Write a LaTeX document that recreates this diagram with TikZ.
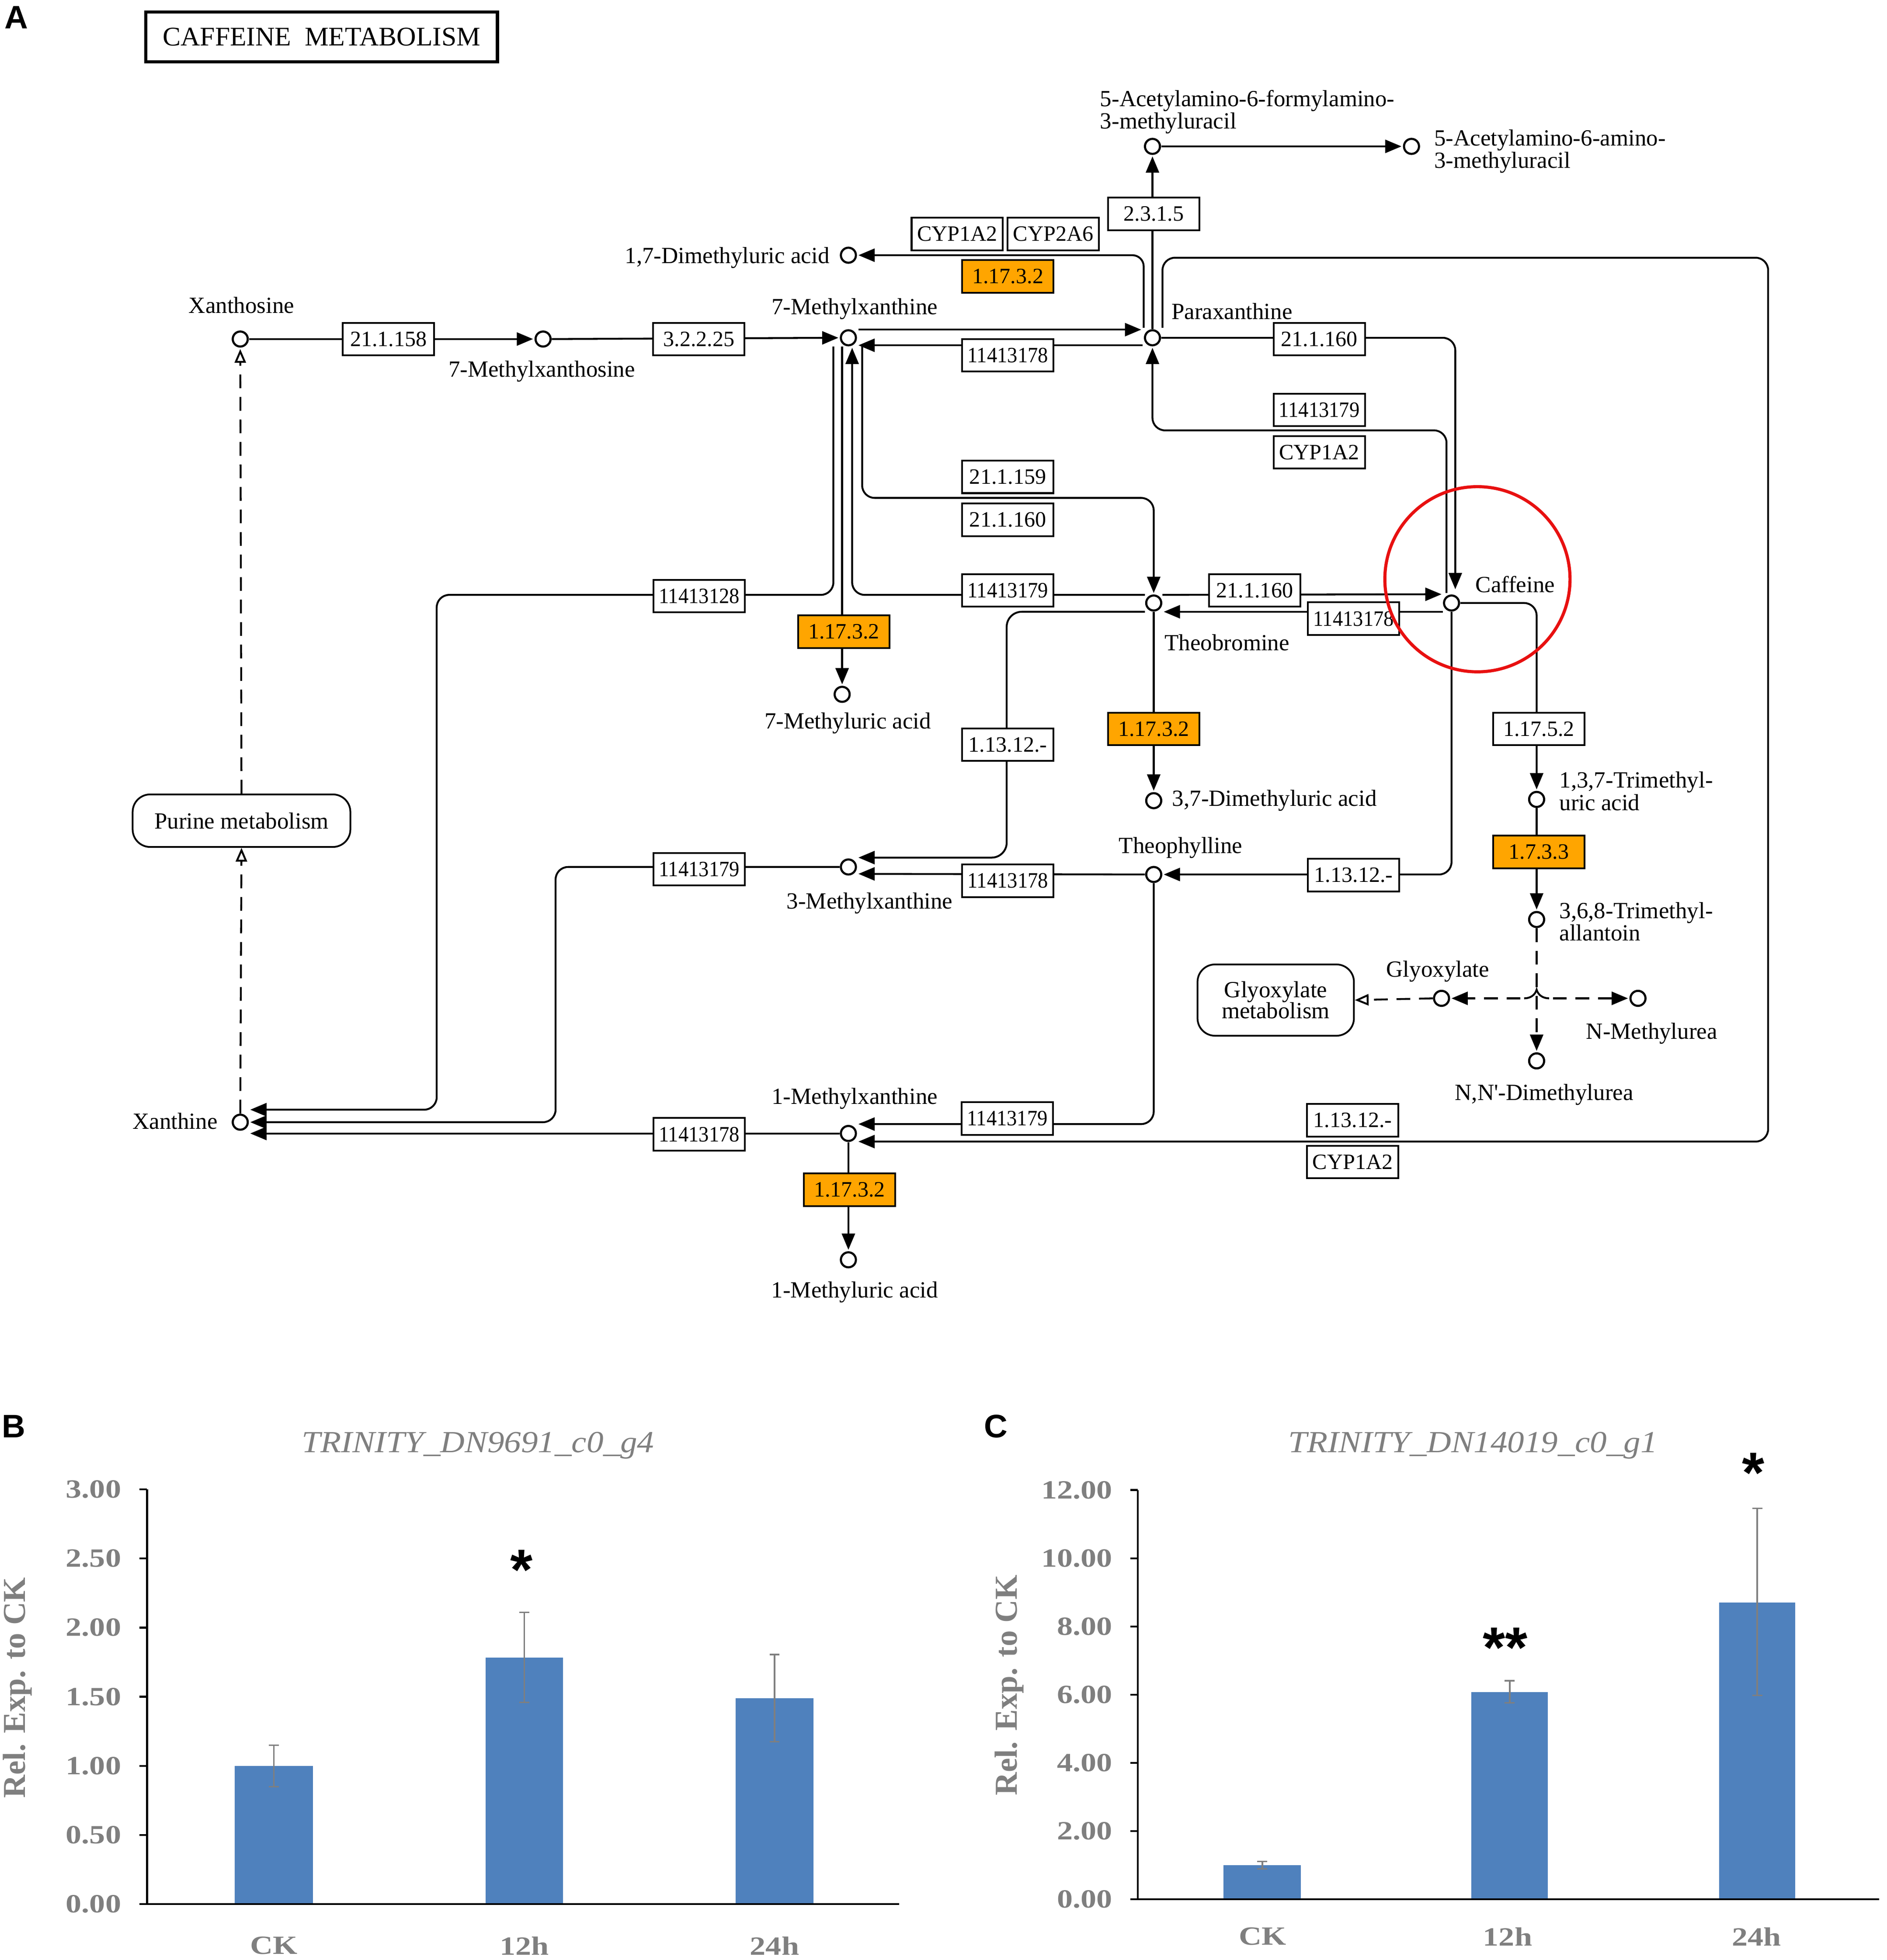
\documentclass[tikz,border=0pt]{standalone}
\usepackage{fontspec}
\usepackage{graphicx}
\setmainfont{Liberation Serif}
\newfontfamily\chartfont[FakeStretch=1.2]{Liberation Serif}
\newfontfamily\charttitlefont[FakeStretch=1.1]{Liberation Serif}
\newfontfamily\panelfont{Liberation Sans}
\usetikzlibrary{arrows.meta,calc}
\newcommand{\squeezed}[1]{\scalebox{0.93}[1]{#1}}
\definecolor{keggorange}{RGB}{255,165,0}
\definecolor{barblue}{RGB}{79,129,189}
\definecolor{axisgray}{RGB}{127,127,127}
\definecolor{kred}{RGB}{232,16,16}
\begin{document}
\begin{tikzpicture}[x=1pt,y=-1pt,
  cpd/.style={circle,draw,fill=white,line width=1.7pt,minimum size=12pt,inner sep=0pt},
  enz/.style={draw,fill=white,line width=1.4pt,minimum width=73pt,minimum height=26pt,inner sep=0pt,font=\fontsize{17.5}{17.5}\selectfont},
  oenz/.style={enz,fill=keggorange},
  lbl/.style={inner sep=0pt,font=\fontsize{18.5}{16}\selectfont},
  rxn/.style={line width=1.5pt},
  arr/.style={rxn,-{Triangle[length=13pt,width=10.5pt]}},
  darr/.style={rxn,dash pattern=on 11pt off 7pt,-{Triangle[length=13pt,width=10.5pt]}},
  oarr/.style={rxn,dash pattern=on 11pt off 7pt,-{Triangle[open,fill=white,length=11pt,width=9pt]}},
  mapbox/.style={draw,rounded corners=14pt,line width=1.4pt,fill=white,align=center,inner sep=0pt,font=\fontsize{18.5}{17}\selectfont},
  panel/.style={inner sep=0pt,font=\panelfont\bfseries\fontsize{26}{26}\selectfont},
  ctitle/.style={inner sep=0pt,text=axisgray,font=\charttitlefont\itshape\fontsize{24.5}{24.5}\selectfont},
  ytick/.style={inner sep=0pt,anchor=east,text=axisgray,font=\chartfont\bfseries\fontsize{21}{21}\selectfont},
  xtick/.style={inner sep=0pt,anchor=north,text=axisgray,font=\chartfont\bfseries\fontsize{21}{21}\selectfont},
  ylab/.style={inner sep=0pt,rotate=90,text=axisgray,font=\bfseries\fontsize{25.5}{25.5}\selectfont},
  star/.style={inner sep=0pt,anchor=north,font=\panelfont\bfseries\fontsize{46}{46}\selectfont},
  bar/.style={fill=barblue},
  err/.style={draw=axisgray,line width=1.2pt},
  axis/.style={line width=1.5pt}
]
\useasboundingbox (0,0) rectangle (1508,1566.7);
\clip (0,0) rectangle (1508,1566.7);
\fill[white] (0,0) rectangle (1508,1566.7);

% ---------------- Panel A ----------------
\node[panel] (pA) at (13,14) {A};
\node[draw,line width=2.5pt,minimum width=281pt,minimum height=40pt,inner sep=0pt,font=\fontsize{21.5}{21.5}\selectfont] (title) at (257,29.5) {CAFFEINE\ \ METABOLISM};

% compounds
\node[cpd] (xos) at (192,271) {};
\node[cpd] (mxo7) at (434,271) {};
\node[cpd] (mx7) at (678,270) {};
\node[cpd] (para) at (921,270) {};
\node[cpd] (afmu) at (921,117) {};
\node[cpd] (aamu) at (1128,117) {};
\node[cpd] (dmu17) at (678,204) {};
\node[cpd] (theob) at (922,482) {};
\node[cpd] (caf) at (1160,482) {};
\node[cpd] (mu7) at (673,555) {};
\node[cpd] (dmu37) at (922,640) {};
\node[cpd] (theoph) at (922,699) {};
\node[cpd] (mx3) at (678,693) {};
\node[cpd] (tmu) at (1228,639) {};
\node[cpd] (tma) at (1228,735) {};
\node[cpd] (glyox) at (1152,798) {};
\node[cpd] (nmu) at (1309,798) {};
\node[cpd] (nndmu) at (1228,848) {};
\node[cpd] (xan) at (192,897) {};
\node[cpd] (mx1) at (678,906) {};
\node[cpd] (mu1) at (678,1007) {};
\node[mapbox,minimum width=174pt,minimum height=42pt] (purine) at (193,656) {Purine metabolism};
\node[mapbox,minimum width=125pt,minimum height=57pt] (glymet) at (1019.5,799.4) {Glyoxylate\\metabolism};

% compound labels
\node[lbl] (l-xos) at (193,244) {Xanthosine};
\node[lbl] (l-mxo7) at (433,297) {7-Methylxanthosine};
\node[lbl] (l-mx7) at (683,247) {7-Methylxanthine};
\node[lbl,anchor=west] (l-para) at (936,249) {Paraxanthine};
\node[lbl,anchor=west,align=left] (l-afmu) at (879,89.5) {5-Acetylamino-6-formylamino-\\3-methyluracil};
\node[lbl,anchor=west,align=left] (l-aamu) at (1146,121) {5-Acetylamino-6-amino-\\3-methyluracil};
\node[lbl,anchor=east] (l-dmu17) at (663,206) {1,7-Dimethyluric acid};
\node[lbl,anchor=west] (l-theob) at (930.6,513.5) {Theobromine};
\node[lbl,anchor=west] (l-caf) at (1179,467) {Caffeine};
\node[lbl] (l-mu7) at (677.5,578) {7-Methyluric acid};
\node[lbl,anchor=west] (l-dmu37) at (936.6,640) {3,7-Dimethyluric acid};
\node[lbl] (l-theoph) at (943.5,677.5) {Theophylline};
\node[lbl] (l-mx3) at (695,722) {3-Methylxanthine};
\node[lbl,anchor=west,align=left] (l-tmu) at (1246,632.4) {1,3,7-Trimethyl-\\uric acid};
\node[lbl,anchor=west,align=left] (l-tma) at (1246,736.5) {3,6,8-Trimethyl-\\allantoin};
\node[lbl] (l-glyox) at (1149,776.3) {Glyoxylate};
\node[lbl] (l-nmu) at (1320,826) {N-Methylurea};
\node[lbl] (l-nndmu) at (1234,875) {N,N\textquotesingle-Dimethylurea};
\node[lbl,anchor=east] (l-xan) at (174,896) {Xanthine};
\node[lbl] (l-mx1) at (683,878) {1-Methylxanthine};
\node[lbl] (l-mu1) at (683,1033) {1-Methyluric acid};

% reactions
\draw[arr] ($(xos)+(7,0)$) -- ($(mxo7)+(-8,0)$);
\draw[arr] ($(mxo7)+(7,0)$) -- ($(mx7)+(-8,0)$);
\draw[arr] ($(mx7)+(8,-6.5)$) -- ($(para)+(-9,-6.5)$);
\draw[arr] ($(para)+(-8,6)$) -- ($(mx7)+(8,6)$);
\draw[arr,rounded corners=9pt] ($(para)+(-7,-8)$) |- ($(dmu17)+(8,0)$);
\draw[arr] ($(para)+(0,-7)$) -- ($(afmu)+(0,8)$);
\draw[arr] ($(afmu)+(7,0)$) -- ($(aamu)+(-8,0)$);
\coordinate (loopNE) at (1413,206);
\draw[arr,rounded corners=10pt] ($(para)+(8,-8)$) |- (loopNE) |- ($(mx1)+(8,6.5)$);
\draw[arr,rounded corners=10pt] ($(para)+(7,0)$) -| ($(caf)+(3,-11)$);
\draw[arr,rounded corners=10pt] ($(caf)+(-4,-8)$) |- ($(para)+(0,74)$) -- ($(para)+(0,8)$);
\coordinate (w1) at (349,475.5);
\draw[arr,rounded corners=10pt] ($(mx7)+(-12,7)$) |- (w1) |- ($(xan)+(8,-10)$);
\draw[arr] ($(mx7)+(-5,7)$) -- ($(mu7)+(0,-8)$);
\draw[arr,rounded corners=10pt] ($(theob)+(-7,-6.5)$) -| ($(mx7)+(3,8)$);
\draw[arr,rounded corners=10pt] ($(mx7)+(11,7)$) |- ($(theob)+(0,-84)$) -- ($(theob)+(0,-8)$);
\draw[arr] ($(theob)+(7,-6.5)$) -- ($(caf)+(-8,-7)$);
\draw[arr] ($(caf)+(-7,7)$) -- ($(theob)+(8,7)$);
\draw[arr,rounded corners=12pt] ($(theob)+(-7,7)$) -| ($(mx3)+(126.5,-7.5)$) -- ($(mx3)+(8,-7.5)$);
\draw[arr] ($(theob)+(0,7)$) -- ($(dmu37)+(0,-8)$);
\draw[arr,rounded corners=10pt] ($(caf)+(7,0)$) -| ($(tmu)+(0,-8)$);
\draw[arr] ($(tmu)+(0,7)$) -- ($(tma)+(0,-8)$);
\coordinate (jn) at (1228,791);
\draw[darr] ($(tma)+(0,7)$) -- ($(nndmu)+(0,-8)$);
\draw[rxn] ($(jn)+(-10,7)$) to[out=0,in=-105] (jn) to[out=-75,in=180] ($(jn)+(10,7)$);
\draw[darr] ($(jn)+(-13,7)$) -- ($(glyox)+(8,0)$);
\draw[darr] ($(jn)+(13,7)$) -- ($(nmu)+(-8,0)$);
\draw[oarr] ($(glyox)+(-7,0)$) -- (glymet.east);
\draw[arr,rounded corners=10pt] ($(caf)+(0,7)$) |- ($(theoph)+(8,0)$);
\draw[arr] ($(theoph)+(-7,0)$) -- ($(mx3)+(8,5.5)$);
\draw[arr,rounded corners=10pt] ($(theoph)+(0,7)$) |- ($(mx1)+(8,-7.5)$);
\coordinate (w3) at (444,693);
\draw[arr,rounded corners=10pt] ($(mx3)+(-7,0)$) -- (w3) |- ($(xan)+(8,0)$);
\draw[arr] ($(mx1)+(-7,0)$) -- ($(xan)+(8,9)$);
\draw[arr] ($(mx1)+(0,7)$) -- ($(mu1)+(0,-8)$);
\draw[oarr] ($(xan)+(0,-7)$) -- (purine.south);
\draw[oarr] (purine.north) -- ($(xos)+(0,8)$);

% enzymes
\node[enz] (e1) at (310.5,271) {21.1.158};
\node[enz] (e2) at (558.5,271) {3.2.2.25};
\node[enz] (e3) at (805.4,284) {\squeezed{11413178}};
\node[enz] (e4) at (765,187) {CYP1A2};
\node[enz] (e5) at (841.7,187) {CYP2A6};
\node[oenz] (e6) at (805.4,221) {1.17.3.2};
\node[enz] (e7) at (922,171) {2.3.1.5};
\node[enz] (e8) at (1054.3,271) {21.1.160};
\node[enz] (e9) at (1054.3,327.6) {\squeezed{11413179}};
\node[enz] (e10) at (1054.3,361.6) {CYP1A2};
\node[enz] (e11) at (805.4,381.2) {21.1.159};
\node[enz] (e12) at (805.4,415.5) {21.1.160};
\node[enz] (e13) at (558.8,476.5) {\squeezed{11413128}};
\node[enz] (e14) at (805.4,472) {\squeezed{11413179}};
\node[oenz] (e15) at (674.4,505) {1.17.3.2};
\node[enz] (e16) at (1002.7,472) {21.1.160};
\node[enz] (e17) at (1081.7,494.5) {\squeezed{11413178}};
\node[oenz] (e18) at (922,582.7) {1.17.3.2};
\node[enz] (e19) at (805.4,595.3) {1.13.12.-};
\node[enz] (e20) at (1229.8,582.7) {1.17.5.2};
\node[oenz] (e21) at (1229.8,681) {1.7.3.3};
\node[enz] (e22) at (558.8,694.7) {\squeezed{11413179}};
\node[enz] (e23) at (805.4,704) {\squeezed{11413178}};
\node[enz] (e24) at (1081.7,699.5) {1.13.12.-};
\node[enz] (e25) at (558.8,906.7) {\squeezed{11413178}};
\node[enz] (e26) at (805,894) {\squeezed{11413179}};
\node[enz] (e27) at (1081,895.4) {1.13.12.-};
\node[enz] (e28) at (1081,928.8) {CYP1A2};
\node[oenz] (e29) at (678.9,951) {1.17.3.2};

% highlight
\node[circle,draw=kred,line width=2.5pt,minimum size=148pt,inner sep=0pt] (hl) at (1180.7,463) {};

% ---------------- Panel B ----------------
\node[panel] (pB) at (11,1140) {B};
\node[ctitle] (tB) at (382,1155.4) {TRINITY\_DN9691\_c0\_g4};
\fill[bar] (187.7,1522) rectangle (250,1411.5);
\fill[bar] (388,1522) rectangle (450,1324.8);
\fill[bar] (588,1522) rectangle (650,1357.4);
\draw[err] (218.9,1428.1) -- (218.9,1394.9) (214.9,1428.1) -- (222.9,1428.1) (214.9,1394.9) -- (222.9,1394.9);
\draw[err] (419,1360.7) -- (419,1288.8) (415,1360.7) -- (423,1360.7) (415,1288.8) -- (423,1288.8);
\draw[err] (619,1392.2) -- (619,1322.5) (615,1392.2) -- (623,1392.2) (615,1322.5) -- (623,1322.5);
\draw[axis] (117.5,1190.5) -- (117.5,1522) -- (718.4,1522);
\foreach \i/\t in {0/0.00,1/0.50,2/1.00,3/1.50,4/2.00,5/2.50,6/3.00}{
  \draw[axis] (111.5,1522-55.25*\i) -- (117.5,1522-55.25*\i);
  \node[ytick] (yb\i) at (97,1522-55.25*\i) {\t};
}
\node[ylab] (ylB) at (14,1349) {Rel. Exp. to CK};
\node[xtick] (xb1) at (219,1548) {CK};
\node[xtick] (xb2) at (419,1548) {12h};
\node[xtick] (xb3) at (619,1548) {24h};
\node[star] (sB) at (416.7,1238.7) {*};

% ---------------- Panel C ----------------
\node[panel] (pC) at (796,1140) {C};
\node[ctitle] (tC) at (1177,1155.4) {TRINITY\_DN14019\_c0\_g1};
\fill[bar] (977.9,1518.2) rectangle (1039.7,1490.9);
\fill[bar] (1175.8,1518.2) rectangle (1237.1,1352.7);
\fill[bar] (1373.8,1518.2) rectangle (1434.7,1280.9);
\draw[err] (1008.8,1493.9) -- (1008.8,1487.9) (1004.8,1493.9) -- (1012.8,1493.9) (1004.8,1487.9) -- (1012.8,1487.9);
\draw[err] (1206.5,1361.1) -- (1206.5,1343.4) (1202.5,1361.1) -- (1210.5,1361.1) (1202.5,1343.4) -- (1210.5,1343.4);
\draw[err] (1404.3,1355.1) -- (1404.3,1205.7) (1400.3,1355.1) -- (1408.3,1355.1) (1400.3,1205.7) -- (1408.3,1205.7);
\draw[axis] (909.3,1191) -- (909.3,1518.2) -- (1501.8,1518.2);
\foreach \i/\t in {0/0.00,1/2.00,2/4.00,3/6.00,4/8.00,5/10.00,6/12.00}{
  \draw[axis] (903.3,1518.2-54.53*\i) -- (909.3,1518.2-54.53*\i);
  \node[ytick] (yc\i) at (889,1518.2-54.53*\i) {\t};
}
\node[ylab] (ylC) at (806.6,1347) {Rel. Exp. to CK};
\node[xtick] (xc1) at (1009,1540.5) {CK};
\node[xtick] (xc2) at (1204.8,1540.5) {12h};
\node[xtick] (xc3) at (1403.7,1540.5) {24h};
\node[star] (sC1) at (1203,1301.1) {**};
\node[star] (sC2) at (1401.3,1161.3) {*};
\end{tikzpicture}
\end{document}
